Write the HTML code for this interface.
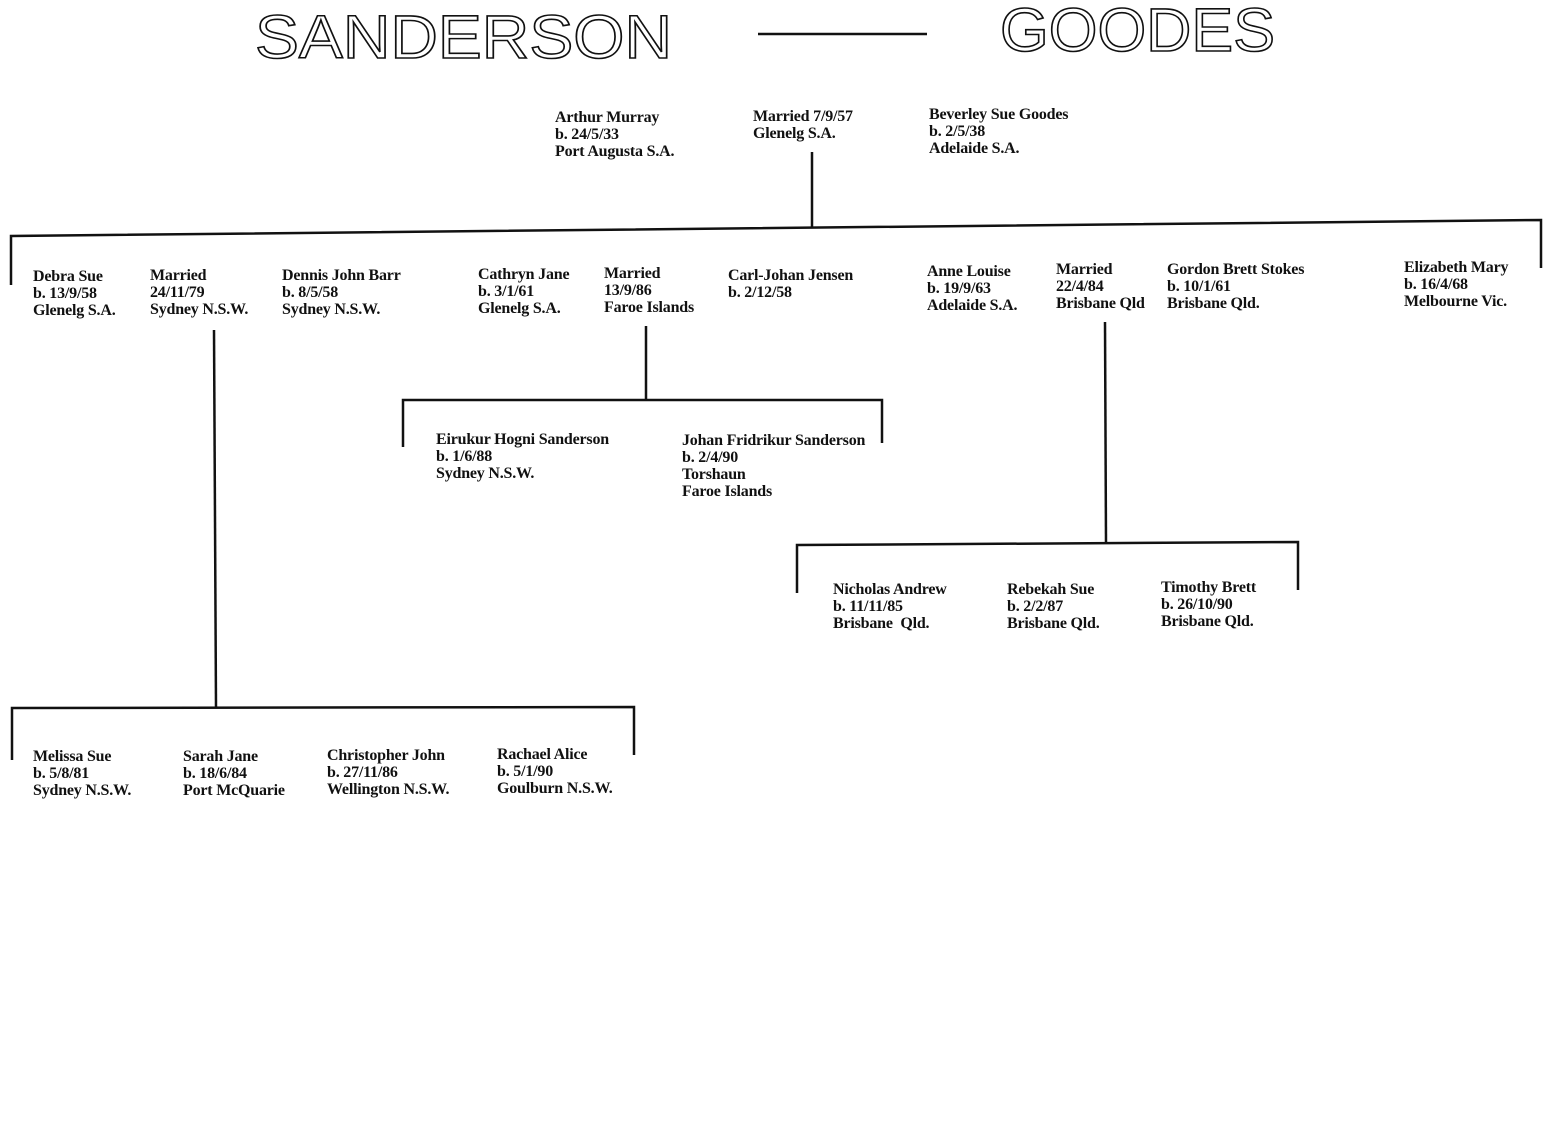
<!DOCTYPE html>
<html><head><meta charset="utf-8"><style>
html,body{margin:0;padding:0;background:#fff;}
body{width:1554px;height:1140px;position:relative;overflow:hidden;}
.t{position:absolute;font-family:"Liberation Serif",serif;font-weight:bold;font-size:16px;line-height:17px;color:#111;white-space:nowrap;letter-spacing:-0.2px;}
svg{position:absolute;left:0;top:0;}
</style></head><body>
<svg width="1554" height="1140" viewBox="0 0 1554 1140">
<text x="255" y="58" font-family="Liberation Sans, sans-serif" font-size="61" textLength="417" lengthAdjust="spacingAndGlyphs" fill="none" stroke="#111" stroke-width="1.6">SANDERSON</text>
<text x="1000" y="51" font-family="Liberation Sans, sans-serif" font-size="61" textLength="275" lengthAdjust="spacingAndGlyphs" fill="none" stroke="#111" stroke-width="1.6">GOODES</text>
<g stroke="#111" stroke-width="2.5" fill="none">
<line x1="758" y1="34" x2="927" y2="34"/>
<line x1="812" y1="152" x2="812" y2="228"/>
<polyline points="11,285 11,236 1541,220 1541,268"/>
<line x1="214" y1="330" x2="216" y2="708"/>
<polyline points="12,760 12,708 634,707 634,755"/>
<line x1="646" y1="326" x2="646" y2="400"/>
<polyline points="403,447 403,400 882,400 882,443"/>
<line x1="1105" y1="322" x2="1106" y2="544"/>
<polyline points="797,593 797,545 1298,542 1298,590"/>
</g>
</svg>
<div class="t" style="left:555px;top:109px">Arthur Murray<br>b. 24/5/33<br>Port Augusta S.A.</div>
<div class="t" style="left:753px;top:108px">Married 7/9/57<br>Glenelg S.A.</div>
<div class="t" style="left:929px;top:106px">Beverley Sue Goodes<br>b. 2/5/38<br>Adelaide S.A.</div>

<div class="t" style="left:33px;top:268px">Debra Sue<br>b. 13/9/58<br>Glenelg S.A.</div>
<div class="t" style="left:150px;top:267px">Married<br>24/11/79<br>Sydney N.S.W.</div>
<div class="t" style="left:282px;top:267px">Dennis John Barr<br>b. 8/5/58<br>Sydney N.S.W.</div>
<div class="t" style="left:478px;top:266px">Cathryn Jane<br>b. 3/1/61<br>Glenelg S.A.</div>
<div class="t" style="left:604px;top:265px">Married<br>13/9/86<br>Faroe Islands</div>
<div class="t" style="left:728px;top:267px">Carl-Johan Jensen<br>b. 2/12/58</div>
<div class="t" style="left:927px;top:263px">Anne Louise<br>b. 19/9/63<br>Adelaide S.A.</div>
<div class="t" style="left:1056px;top:261px">Married<br>22/4/84<br>Brisbane Qld</div>
<div class="t" style="left:1167px;top:261px">Gordon Brett Stokes<br>b. 10/1/61<br>Brisbane Qld.</div>
<div class="t" style="left:1404px;top:259px">Elizabeth Mary<br>b. 16/4/68<br>Melbourne Vic.</div>

<div class="t" style="left:436px;top:431px">Eirukur Hogni Sanderson<br>b. 1/6/88<br>Sydney N.S.W.</div>
<div class="t" style="left:682px;top:432px">Johan Fridrikur Sanderson<br>b. 2/4/90<br>Torshaun<br>Faroe Islands</div>

<div class="t" style="left:833px;top:581px">Nicholas Andrew<br>b. 11/11/85<br>Brisbane&nbsp; Qld.</div>
<div class="t" style="left:1007px;top:581px">Rebekah Sue<br>b. 2/2/87<br>Brisbane Qld.</div>
<div class="t" style="left:1161px;top:579px">Timothy Brett<br>b. 26/10/90<br>Brisbane Qld.</div>

<div class="t" style="left:33px;top:748px">Melissa Sue<br>b. 5/8/81<br>Sydney N.S.W.</div>
<div class="t" style="left:183px;top:748px">Sarah Jane<br>b. 18/6/84<br>Port McQuarie</div>
<div class="t" style="left:327px;top:747px">Christopher John<br>b. 27/11/86<br>Wellington N.S.W.</div>
<div class="t" style="left:497px;top:746px">Rachael Alice<br>b. 5/1/90<br>Goulburn N.S.W.</div>
</body></html>
